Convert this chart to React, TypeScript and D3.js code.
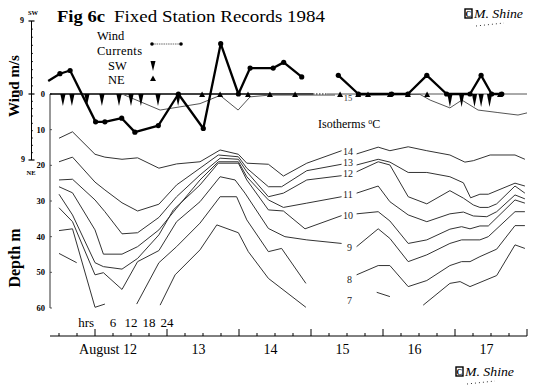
import React from "react";
import * as d3 from "d3";

type Pt = [number, number] | null;

// time is in hours from 12 August 00:00, depth in m, wind in m/s (SW > 0)
const hourTicks = d3.range(-12, 145, 6);
const hourLabels = [6, 12, 18, 24];
const dayLabels = ["August 12", "13", "14", "15", "16", "17"];
const depthTicks = [0, 10, 20, 30, 40, 50, 60];

// wind record, thick line with dots (two pieces)
const windA: [number, number][] = [
  [-15.6, 1.6], [-11.7, 2.5], [-8.3, 2.9], [0.2, -3.8], [3.3, -3.8], [8.9, -3.3],
  [13.3, -5.2], [21.1, -4.3], [27.8, 0], [36.1, -4.7], [41.9, 6.2], [47.8, 0],
  [51.7, 3.2], [59.4, 3.2], [62.9, 3.9], [68.9, 2.1],
];
const windB: [number, number][] = [
  [81.1, 2.3], [87.8, 0], [98.9, 0], [104.3, 0], [110.6, 2.3], [117.2, 0],
  [125, 0], [128.7, 2.3], [132.2, 0], [135.6, 0],
];

// current direction markers
const swHours = [-10.7, -7.7, -2.7, 2.3, 8, 12, 15.3, 21, 27.7, 118.3, 122.2, 126.5, 128.7, 131.5];
const neHours = [35.7, 41.7, 51, 58.3, 66.7, 81.7, 87.7, 91, 98.3, 104.3, 110.7, 135];

// isotherms, [hour, depth]; null marks a break in the trace
const iso15: Pt[] = [
  [9, 0], [21.7, 4.5], [35, 2.7], [41.7, 0.4], [47.7, 4.5], [51.7, 0.8], [58.3, 0.3], [80, 0.3], null,
  [87.7, 0.3], [108.3, 0.1], [111.7, 1.7], [118.3, 3.9], [122.3, 1.7], [127.7, 4.5], [134.3, 5.2], [141, 5.9], [144, 5.3],
];
const iso14: Pt[] = [
  [-12, 12.4], [-7.5, 10.6], [0, 16.9], [3.3, 17.7], [9, 18.3], [14.2, 17.9], [21.3, 20.8], [27.2, 19.6],
  [35, 19.0], [41.7, 15.7], [47.8, 16.9], [50.6, 19.4], [57.8, 19.7], [62.8, 23.0], [70.6, 19.4], [82.2, 15.9], null,
  [87.2, 16.8], [94.4, 14.9], [98.3, 15.9], [104.4, 14.8], [110.6, 15.9], [118.3, 17.1], [123.3, 19.1],
  [126.1, 18.7], [131.7, 17.1], [140, 17.1], [143.3, 18.3],
];
const iso13: Pt[] = [
  [-12, 19.0], [-7.5, 17.7], [0, 24.7], [3.3, 26.9], [9, 30.5], [14.2, 32.8], [21.3, 30.9], [27.2, 25.5],
  [35, 20.8], [41.1, 17.1], [47.8, 17.6], [50.6, 20.8], [57.8, 26.0], [62.2, 26.0], [70.6, 21.5], [82.2, 19.7], null,
  [87.2, 19.9], [94.4, 18.3], [98.3, 19.1], [104.4, 22.0], [110.6, 22.0], [118.3, 23.2], [122.8, 24.9],
  [125.2, 29.1], [128.3, 28.1], [131.1, 28.1], [140, 25.0], [143.3, 25.8],
];
const iso12: Pt[] = [
  [-12, 24.1], [-7.5, 23.9], [0, 29.7], [3.3, 33.0], [9, 39.2], [14.2, 38.9], [21.3, 34.6], [27.2, 28.8],
  [35, 22.7], [41.7, 18.0], [47.8, 18.3], [50.6, 21.8], [57.8, 28.8], [62.8, 27.8], [70.6, 24.1], [82.2, 22.9], null,
  [87.2, 21.8], [94.4, 19.0], [98.3, 19.9], [104.4, 28.8], [110.6, 30.8], [118.3, 27.1], [122.8, 29.2],
  [126.1, 31.1], [128.3, 31.8], [131.1, 31.8], [133.9, 30.8], [140, 25.8], [143.3, 27.8],
];
const iso11: Pt[] = [
  [-12, 26.0], [-7.5, 27.7], [0, 38.1], [2.8, 44.9], [9, 44.9], [14.2, 42.8], [21.3, 38.1], [27.2, 32.0],
  [35, 24.1], [41.1, 19.0], [47.8, 19.0], [50.6, 23.2], [57.8, 29.7], [62.8, 31.8], [70.6, 30.6], [82.2, 28.8], null,
  [87.2, 27.8], [94.4, 25.8], [98.3, 30.2], [104.4, 33.9], [110.6, 35.8], [118.3, 33.6], [122.8, 33.1],
  [126.1, 34.2], [130.6, 34.4], [133.9, 33.0], [140, 28.3], [143.3, 29.4],
];
const iso10: Pt[] = [
  [-12, 28.1], [-7.5, 33.9], [0, 47.3], [2.8, 48.4], [9, 49.1], [14.2, 46.1], [21.3, 39.5], [26.1, 32.5],
  [35, 25.5], [41.1, 19.4], [47.8, 19.4], [50.6, 24.1], [57.8, 32.5], [62.8, 32.8], [70, 37.8], [82.2, 34.1], null,
  [87.2, 33.6], [94.4, 33.0], [98.3, 35.6], [104.4, 41.9], [110.6, 40.9], [118.3, 37.9], [122.2, 37.2],
  [125, 37.8], [128.3, 37.0], [131.1, 37.0], [140, 29.7], [143.3, 30.6],
];
const iso9: Pt[] = [
  [-12, 31.9], [-7.5, 35.8], [0, 50.7], [2.8, 50.1], [9, 54.8], [14.2, 47.0], [21.3, 43.9], [27.2, 35.8],
  [35, 30.2], [41.7, 23.2], [46.7, 24.1], [50, 27.8], [57.8, 37.7], [63.3, 40.0], [70.6, 40.9], [82.2, 41.9], null,
  [87.2, 42.8], [94.4, 37.8], [98.3, 40.5], [104.4, 47.0], [110.6, 45.1], [118.3, 41.9], [122.2, 40.9],
  [128.3, 40.9], [131.1, 40.0], [140, 33.0], [143.3, 33.0],
];
const iso8: Pt[] = [
  [-12, 38.3], [-7.5, 37.8], [0, 59.8], [3.3, 58.9], null,
  [13.9, 58.9], [21.3, 47.3], [27.2, 42.8], [35, 36.2], [41.7, 28.8], [47.2, 28.8], [50.6, 35.3],
  [57.8, 44.2], [62.2, 43.3], [70.3, 53.1], null,
  [87.2, 50.7], [94.4, 48.1], [98.3, 48.1], [104.4, 54.0], [110.6, 52.3], [118.3, 48.1], [122.2, 47.0],
  [125, 47.0], [128.3, 45.6], [133.9, 43.5], [140, 36.9], [143.3, 36.9],
];
const iso7: Pt[] = [
  [-12, 44.7], [-6.1, 47.3], null,
  [21.7, 59.2], [26.7, 50.7], [35, 43.7], [40.6, 36.7], [47.8, 38.9], [51.1, 44.2], [57.8, 51.7], [70.3, 59.8], null,
  [93.9, 55.6], [98.3, 56.8], null,
  [109.4, 59.2], [118.3, 53.1], [121.7, 52.6], [125, 54.0], [133.9, 50.9], [140, 42.3], [143.3, 43.3],
];

const isoTraces = [iso14, iso13, iso12, iso11, iso10, iso9, iso8, iso7];
const isoTemps = [14, 13, 12, 11, 10, 9, 8, 7];
const isoLabelDepth = [16.0, 19.1, 22.3, 28.3, 34.1, 42.9, 52.1, 57.8];

const serif = "'Liberation Serif', 'Times New Roman', serif";

function Signature({ bx, by, tx, ty }: { bx: number; by: number; tx: number; ty: number }) {
  return (
    <g>
      <rect x={bx} y={by} width={7} height={9} fill="#fff" stroke="#000" strokeWidth={1.4} />
      <text x={bx + 3.5} y={by + 7.5} fontSize={8} fontWeight="bold" textAnchor="middle">C</text>
      <text x={tx} y={ty} fontSize={13} fontStyle="italic" textLength={49} lengthAdjust="spacingAndGlyphs">
        M. Shine
      </text>
      <line x1={tx + 2} x2={tx + 30} y1={ty + 8} y2={ty + 5} stroke="#000" strokeWidth={0.8} strokeDasharray="1 3" />
    </g>
  );
}

export default function App() {
  const x = d3.scaleLinear().domain([-15, 144]).range([50, 527]);
  const yD = d3.scaleLinear().domain([0, 60]).range([94, 308]);
  const yW = d3.scaleLinear().domain([-9, 0, 9]).range([160, 94, 21]);

  const isoLine = d3
    .line<Pt>()
    .defined((d) => d !== null)
    .x((d) => x((d as [number, number])[0]))
    .y((d) => yD((d as [number, number])[1]));
  const windLine = d3
    .line<[number, number]>()
    .x((d) => x(d[0]))
    .y((d) => yW(d[1]));

  const zeroY = yW(0);
  const axisY = 336;
  const windAxisX = 31.5;

  return (
    <svg
      width={540}
      height={388}
      style={{ position: "absolute", left: 0, top: 0, background: "#fff" }}
      fontFamily={serif}
    >
      {/* title */}
      <text x={57} y={22} fontSize={17} fontWeight="bold" textLength={48} lengthAdjust="spacingAndGlyphs">
        Fig 6c
      </text>
      <text x={114} y={22} fontSize={17} textLength={211} lengthAdjust="spacingAndGlyphs">
        Fixed Station Records 1984
      </text>
      <Signature bx={465} by={9} tx={474} ty={18} />
      <Signature bx={456} by={367} tx={465} ty={376} />

      {/* axis titles */}
      <text transform="translate(19,86) rotate(-90)" fontSize={15} fontWeight="bold" textAnchor="middle">
        Wind m/s
      </text>
      <text transform="translate(20,258) rotate(-90)" fontSize={16} fontWeight="bold" textAnchor="middle">
        Depth m
      </text>

      {/* wind scale */}
      <line x1={windAxisX} x2={windAxisX} y1={yW(9)} y2={yW(-9)} stroke="#000" strokeWidth={1} />
      {d3.range(-9, 10).map((v) => (
        <line
          key={"wt" + v}
          x1={v === 0 || Math.abs(v) === 9 ? windAxisX - 3 : windAxisX}
          x2={windAxisX + (v === 0 || Math.abs(v) === 9 ? 3 : 1.5)}
          y1={yW(v)}
          y2={yW(v)}
          stroke="#000"
          strokeWidth={v === 0 || Math.abs(v) === 9 ? 1.2 : 0.8}
        />
      ))}
      <text x={33} y={15} fontSize={6.5} fontWeight="bold" textAnchor="middle">SW</text>
      <text x={24} y={23} fontSize={8} fontWeight="bold" textAnchor="end">9</text>
      <text x={23} y={96} fontSize={8} fontWeight="bold" textAnchor="end">0</text>
      <text x={25} y={162} fontSize={8} fontWeight="bold" textAnchor="end">9</text>
      <text x={31} y={175} fontSize={6.5} fontWeight="bold" textAnchor="middle">NE</text>

      {/* depth scale */}
      <line x1={50} x2={50} y1={yD(0)} y2={yD(60)} stroke="#333" strokeWidth={1} />
      {depthTicks.map((d) => (
        <g key={"dt" + d}>
          <line x1={50} x2={52} y1={yD(d)} y2={yD(d)} stroke="#333" strokeWidth={0.8} />
          <text x={45} y={yD(d) + 3} fontSize={8.5} fontWeight="bold" textAnchor="end">{d}</text>
        </g>
      ))}

      {/* zero line */}
      <line x1={50} x2={313} y1={zeroY} y2={zeroY} stroke="#000" strokeWidth={1.4} />
      <line x1={313} x2={327} y1={zeroY} y2={zeroY} stroke="#000" strokeWidth={1} strokeDasharray="1.5 1.5" />
      <line x1={327} x2={527} y1={zeroY} y2={zeroY} stroke="#555" strokeWidth={1} />

      {/* isotherms */}
      <path d={isoLine(iso15) || ""} fill="none" stroke="#555" strokeWidth={1} />
      <text x={x(84.3)} y={101} fontSize={8.5} fill="#333" textAnchor="middle">15</text>
      {isoTraces.map((tr, i) => (
        <path key={"iso" + i} d={isoLine(tr) || ""} fill="none" stroke="#333" strokeWidth={1} />
      ))}
      {isoTemps.map((t, i) => (
        <text
          key={"il" + t}
          x={x(t >= 10 ? 84.3 : 84.8)}
          y={yD(isoLabelDepth[i])}
          dy="0.35em"
          fontSize={10}
          fill="#222"
          textAnchor="middle"
        >
          {t}
        </text>
      ))}
      <text x={318} y={128} fontSize={12}>
        Isotherms <tspan fontSize={8} dy={-4}>o</tspan>
        <tspan dy={4}>C</tspan>
      </text>

      {/* current direction markers */}
      {swHours.map((h, i) => (
        <path
          key={"sw" + i}
          d={`M${x(h) - 2.6},${zeroY} L${x(h) + 2.6},${zeroY} L${x(h)},${zeroY + (h > 100 ? 13 : 12)} Z`}
          fill="#000"
        />
      ))}
      {neHours.map((h, i) => (
        <path
          key={"ne" + i}
          d={`M${x(h) - 3},${zeroY + 3} L${x(h) + 3},${zeroY + 3} L${x(h)},${zeroY - 2.5} Z`}
          fill="#000"
        />
      ))}

      {/* wind */}
      {[windA, windB].map((seg, s) => (
        <g key={"w" + s}>
          <path d={windLine(seg) || ""} fill="none" stroke="#000" strokeWidth={2.3} strokeLinejoin="round" />
          {seg.map((d, i) =>
            s === 0 && i === 0 ? null : (
              <circle key={i} cx={x(d[0])} cy={yW(d[1])} r={2.6} fill="#000" />
            )
          )}
        </g>
      ))}

      {/* legend */}
      <text x={97} y={40} fontSize={12.5}>Wind</text>
      <text x={97} y={54.5} fontSize={12.5} textLength={45}>Currents</text>
      <line x1={152} x2={181} y1={44} y2={44} stroke="#444" strokeWidth={0.8} strokeDasharray="1.5 0.8" />
      <circle cx={152} cy={44} r={1.8} fill="#000" />
      <circle cx={181} cy={44} r={1.8} fill="#000" />
      <text x={108} y={69.5} fontSize={12.5}>SW</text>
      <path d="M150.5,61 L155.5,61 L153,71 Z" fill="#000" />
      <text x={108} y={84} fontSize={12.5}>NE</text>
      <path d="M150,81 L156,81 L153,75.5 Z" fill="#000" />

      {/* time axis */}
      <line x1={50} x2={527} y1={axisY} y2={axisY} stroke="#000" strokeWidth={1} />
      {hourTicks.map((h) => (
        <line
          key={"ht" + h}
          x1={x(h)}
          x2={x(h)}
          y1={axisY}
          y2={axisY - (h % 24 === 0 ? 7 : 3)}
          stroke="#000"
          strokeWidth={1}
        />
      ))}
      <text x={x(-0.3)} y={327} fontSize={13} textAnchor="end">hrs</text>
      {hourLabels.map((h) => (
        <text key={"hl" + h} x={x(h)} y={327} fontSize={13} textAnchor="middle">{h}</text>
      ))}
      {dayLabels.map((lab, i) =>
        i === 0 ? (
          <text key={lab} x={x(12) + 6} y={354} fontSize={14} textAnchor="end">{lab}</text>
        ) : (
          <text key={lab} x={x(24 * i + 12) - 4.5} y={354} fontSize={14} textAnchor="middle">{lab}</text>
        )
      )}
    </svg>
  );
}
